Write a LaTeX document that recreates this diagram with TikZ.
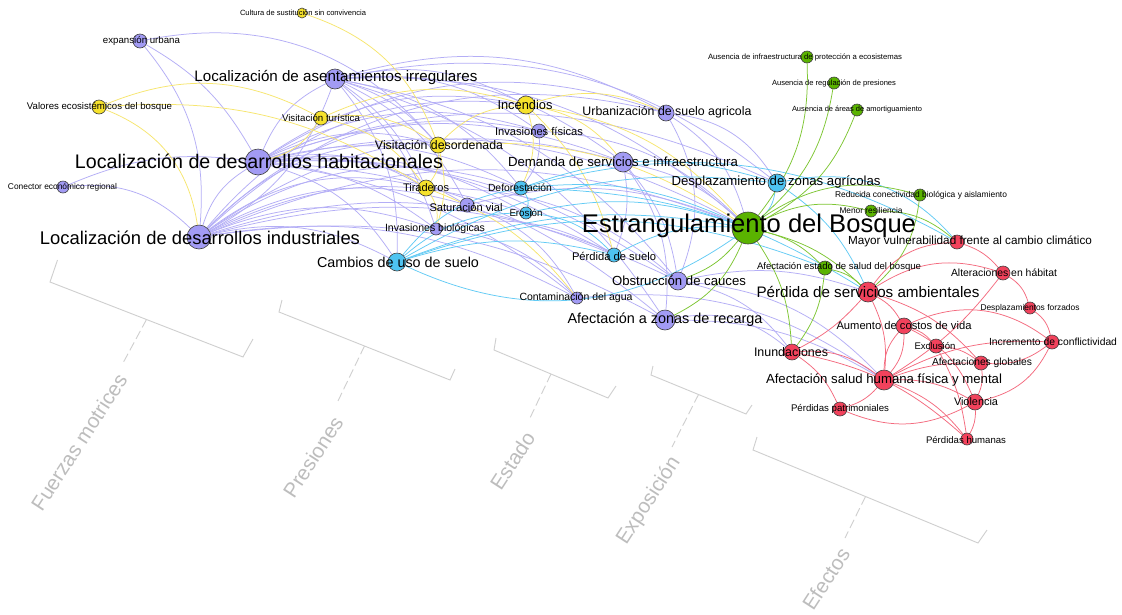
\documentclass[tikz,border=0pt]{standalone}
\usepackage{fontspec}
\setmainfont{Liberation Sans}
\usepackage{graphicx}
\definecolor{cP}{HTML}{A29BF4}
\definecolor{cY}{HTML}{F6E22C}
\definecolor{cC}{HTML}{4EC3F1}
\definecolor{cG}{HTML}{5AB300}
\definecolor{cR}{HTML}{F2425C}
\definecolor{eP}{HTML}{B4AEF6}
\definecolor{eY}{HTML}{F7E66E}
\definecolor{eC}{HTML}{62CBF5}
\definecolor{eG}{HTML}{7DC632}
\definecolor{eR}{HTML}{F46A7E}
\definecolor{brk}{HTML}{CFCFCF}
\definecolor{brt}{HTML}{BDBDBD}
\pgfdeclarelayer{bg}
\pgfdeclarelayer{top}
\pgfsetlayers{bg,main,top}
\newcommand\lbl[5]{\node[lab] (#1) at (#2,#3) {\resizebox{#4pt}{!}{#5}};}
\begin{document}
\begin{tikzpicture}[x=1pt,y=-1pt,
  dot/.style={circle,draw=black!75,line width=0.6pt,inner sep=0pt},
  nP/.style={dot,fill=cP},nY/.style={dot,fill=cY},nC/.style={dot,fill=cC},
  nG/.style={dot,fill=cG},nR/.style={dot,fill=cR},
  lab/.style={inner sep=0pt,text=black},
  eg/.style={line width=0.75pt},
  pe/.style={eg,draw=eP},ye/.style={eg,draw=eY},ce/.style={eg,draw=eC},
  ge/.style={eg,draw=eG},re/.style={eg,draw=eR},
  brl/.style={draw=brk,line width=0.9pt},
  brd/.style={draw=brk,line width=0.9pt,dash pattern=on 9pt off 4pt},
  cat/.style={text=brt,font=\fontsize{20.6}{21}\selectfont,rotate=57,inner sep=0pt}]
\begin{pgfonlayer}{bg}
\fill[white] (0,0) rectangle (1122,614);
\end{pgfonlayer}
\useasboundingbox (0,0) rectangle (1122,614);

% ---------- brackets ----------
\coordinate (b1a) at (57.5,260); \coordinate (b1b) at (50,282); \coordinate (b1c) at (243,357); \coordinate (b1d) at (253,339);
\coordinate (b1m) at (146.5,319.5); \coordinate (b1e) at (123,363);
\coordinate (b2a) at (282,300); \coordinate (b2b) at (279,312); \coordinate (b2c) at (450,380); \coordinate (b2d) at (455,369);
\coordinate (b2m) at (364.5,346); \coordinate (b2e) at (337,403);
\coordinate (b3a) at (496,338); \coordinate (b3b) at (494,350); \coordinate (b3c) at (608,398); \coordinate (b3d) at (616,386);
\coordinate (b3m) at (551,374); \coordinate (b3e) at (529,420);
\coordinate (b4a) at (653,366); \coordinate (b4b) at (651,375); \coordinate (b4c) at (746,414); \coordinate (b4d) at (752,405);
\coordinate (b4m) at (698.5,394.5); \coordinate (b4e) at (672,447);
\coordinate (b5a) at (757,437); \coordinate (b5b) at (753,450); \coordinate (b5c) at (978,543); \coordinate (b5d) at (987,530);
\coordinate (b5m) at (865.5,496.5); \coordinate (b5e) at (845,538);
\foreach \i in {1,...,5}{
  \draw[brl] (b\i a) -- (b\i b) -- (b\i c) -- (b\i d);
  \draw[brd] (b\i m) -- (b\i e);
}
\node[cat] (k1) at (79,442) {Fuerzas motrices};
\node[cat] (k2) at (313,457) {Presiones};
\node[cat] (k3) at (512.5,461) {Estado};
\node[cat] (k4) at (649,501) {Exposición};
\node[cat] (k5) at (826,579) {Efectos};

% ---------- nodes ----------
\node[nP,minimum size=14pt] (eu) at (140,41) {};
\node[nP,minimum size=20pt] (lai) at (335,79) {};
\node[nP,minimum size=26pt] (ldh) at (258,162) {};
\node[nP,minimum size=12pt] (cer) at (63,187) {};
\node[nP,minimum size=24pt] (ldi) at (199,237) {};
\node[nP,minimum size=16pt] (usa) at (666,113) {};
\node[nP,minimum size=14pt] (ifi) at (539,131) {};
\node[nP,minimum size=20pt] (dsi) at (623,162) {};
\node[nP,minimum size=14pt] (sv) at (467,205) {};
\node[nP,minimum size=12pt] (ib) at (436,229) {};
\node[nP,minimum size=12pt] (ca) at (577,298) {};
\node[nP,minimum size=18pt] (oc) at (678,281) {};
\node[nP,minimum size=20pt] (azr) at (665,320) {};
\node[nY,minimum size=10pt] (cul) at (302,13) {};
\node[nY,minimum size=14pt] (veb) at (99,107) {};
\node[nY,minimum size=14pt] (vt) at (321,118) {};
\node[nY,minimum size=18pt] (inc) at (526,105) {};
\node[nY,minimum size=16pt] (vd) at (438,145) {};
\node[nY,minimum size=16pt] (tir) at (426,188) {};
\node[nC,minimum size=14pt] (def) at (521,188) {};
\node[nC,minimum size=12pt] (ero) at (526,213) {};
\node[nC,minimum size=18pt] (cus) at (397,262) {};
\node[nC,minimum size=14pt] (ps) at (614,255) {};
\node[nC,minimum size=18pt] (dza) at (777,183) {};
\node[nG,minimum size=32pt] (eb) at (748,228) {};
\node[nG,minimum size=12pt] (a1) at (807,57) {};
\node[nG,minimum size=12pt] (a2) at (834,83) {};
\node[nG,minimum size=12pt] (a3) at (857,110) {};
\node[nG,minimum size=12pt] (rc) at (920,195) {};
\node[nG,minimum size=12pt] (mr) at (871,211) {};
\node[nG,minimum size=14pt] (aesb) at (825,268) {};
\node[nR,minimum size=14pt] (mv) at (957,242) {};
\node[nR,minimum size=20pt] (psa) at (868,292) {};
\node[nR,minimum size=14pt] (ah) at (1003,273) {};
\node[nR,minimum size=12pt] (df) at (1030,308) {};
\node[nR,minimum size=16pt] (acv) at (904,326) {};
\node[nR,minimum size=14pt] (ic) at (1052,342) {};
\node[nR,minimum size=14pt] (exc) at (936,346) {};
\node[nR,minimum size=16pt] (inu) at (792,352) {};
\node[nR,minimum size=14pt] (ag) at (981,363) {};
\node[nR,minimum size=20pt] (ash) at (884,380) {};
\node[nR,minimum size=16pt] (vio) at (975,402) {};
\node[nR,minimum size=14pt] (pp) at (840,409) {};
\node[nR,minimum size=12pt] (ph) at (967,439) {};

% ---------- edges (on background layer) ----------
\begin{pgfonlayer}{bg}
\foreach \a/\b/\c in {eu/ldh/15,eu/ldi/22,eu/vd/30,cer/ldh/15,cer/ldi/25,
  ldh/lai/20,ldh/inc/22,ldh/ifi/22,ldh/usa/25,ldh/dsi/20,ldh/vd/20,ldh/tir/20,ldh/def/20,ldh/sv/18,ldh/ib/15,
  ldh/ero/18,ldh/ps/18,ldh/eb/20,ldh/dza/22,ldh/oc/18,ldh/azr/18,ldh/ca/15,ldh/cus/20,
  ldi/vd/25,ldi/tir/25,ldi/sv/22,ldi/ib/20,ldi/def/25,ldi/ero/22,ldi/dsi/25,ldi/ps/20,ldi/eb/22,ldi/inc/28,
  ldi/ifi/28,ldi/ca/18,ldi/oc/20,ldi/azr/18,ldi/cus/20,ldi/usa/28,ldi/ldh/20,
  lai/inc/20,lai/ifi/20,lai/usa/22,lai/dsi/20,lai/vd/15,lai/tir/15,lai/def/20,lai/sv/18,lai/ib/15,lai/cus/20,
  lai/eb/22,lai/dza/25,lai/oc/20,lai/azr/20,lai/ldi/20,
  usa/eb/20,usa/dza/25,usa/oc/25,dsi/eb/15,dsi/ps/15,dsi/oc/15,dsi/azr/20,ifi/def/20,ifi/eb/20,
  sv/eb/18,sv/ca/20,ib/ps/20,ib/ca/20,ca/ash/20,oc/inu/20,oc/ash/20,oc/psa/15,azr/inu/25,azr/ash/15,tir/oc/20}
  \draw[pe] (\a) to[bend left=\c] (\b);

\foreach \a/\b/\c in {cul/vd/25,veb/vt/25,veb/ldi/30,veb/tir/18,vt/inc/20,vt/vd/20,vt/tir/20,
  inc/eb/20,inc/def/20,inc/ps/15,inc/dsi/20,vd/tir/20,vd/ib/15,vd/inc/20,vd/eb/18,tir/ib/20,tir/ca/15,vt/ldh/20,inc/usa/20}
  \draw[ye] (\a) to[bend left=\c] (\b);

\foreach \a/\b/\c in {cus/def/20,cus/ero/20,cus/ps/15,eb/cus/30,cus/dza/18,cus/eb/15,def/ero/25,def/eb/15,def/dza/18,
  def/mv/22,def/psa/15,ero/eb/15,ero/ps/20,ps/eb/15,dza/mv/30,dza/psa/15,dza/eb/20,cus/aesb/20}
  \draw[ce] (\a) to[bend left=\c] (\b);

\foreach \a/\b/\c in {a1/eb/20,a2/eb/20,a3/eb/20,eb/rc/25,eb/mr/20,eb/aesb/15,eb/oc/15,eb/azr/20,eb/inu/15,
  eb/psa/15,rc/psa/20,mr/mv/20,aesb/inu/15,aesb/psa/15}
  \draw[ge] (\a) to[bend left=\c] (\b);

\foreach \a/\b/\c in {mv/ah/15,psa/ah/25,psa/acv/15,psa/inu/10,psa/ash/15,psa/ag/15,ah/df/20,ah/ash/10,
  df/ic/20,acv/ic/30,acv/ash/20,ash/acv/20,acv/exc/15,acv/vio/20,ic/ag/20,ic/vio/25,exc/ag/15,exc/ph/10,
  inu/ash/20,inu/pp/15,inu/ph/15,ash/vio/15,ash/pp/15,ash/ph/15,ash/ag/10,vio/pp/25,vio/ph/15,ag/vio/15,ash/ic/15,psa/mv/25}
  \draw[re] (\a) to[bend left=\c] (\b);
\end{pgfonlayer}

% ---------- labels ----------
\begin{pgfonlayer}{top}
\lbl{t1}{141.5}{41}{77}{expansión urbana}
\lbl{t2}{336}{77}{283}{Localización de asentamientos irregulares}
\lbl{t3}{259}{161}{368}{Localización de desarrollos habitacionales}
\lbl{t4}{62.5}{187}{109}{Conector económico regional}
\lbl{t5}{200}{238}{320}{Localización de desarrollos industriales}
\lbl{t6}{667}{112}{169}{Urbanización de suelo agricola}
\lbl{t7}{539}{131}{88}{Invasiones físicas}
\lbl{t8}{623}{162}{230}{Demanda de servicios e infraestructura}
\lbl{t9}{466}{207}{73}{Saturación vial}
\lbl{t10}{435}{229}{100}{Invasiones biológicas}
\lbl{t11}{576}{298}{113}{Contaminación del agua}
\lbl{t12}{679}{281}{134}{Obstrucción de cauces}
\lbl{t13}{665}{320}{195}{Afectación a zonas de recarga}
\lbl{t14}{303}{13}{126}{Cultura de sustitución sin convivencia}
\lbl{t15}{99.5}{107}{145}{Valores ecosistémicos del bosque}
\lbl{t16}{321}{118}{78}{Visitación turística}
\lbl{t17}{525}{105}{55}{Incendios}
\lbl{t18}{439}{145}{128}{Visitación desordenada}
\lbl{t19}{426}{188}{46}{Tiraderos}
\lbl{t20}{520}{188}{64}{Deforestación}
\lbl{t21}{526}{213}{33}{Erosión}
\lbl{t22}{398}{262}{162}{Cambios de uso de suelo}
\lbl{t23}{614}{256}{84}{Pérdida de suelo}
\lbl{t24}{776}{182}{209}{Desplazamiento de zonas agrícolas}
\lbl{t25}{749}{226}{334}{Estrangulamiento del Bosque}
\lbl{t26}{805}{57}{194}{Ausencia de infraestructura de protección a ecosistemas}
\lbl{t27}{834}{83}{124}{Ausencia de regulación de presiones}
\lbl{t28}{857}{110}{130}{Ausencia de áreas de amortiguamiento}
\lbl{t29}{921}{195}{172}{Reducida conectividad biológica y aislamiento}
\lbl{t30}{871}{211}{63}{Menor resiliencia}
\lbl{t31}{839}{267}{164}{Afectación estado de salud del bosque}
\lbl{t32}{970}{241}{244}{Mayor vulnerabilidad frente al cambio climático}
\lbl{t33}{868}{292}{223}{Pérdida de servicios ambientales}
\lbl{t34}{1004}{273}{106}{Alteraciones en hábitat}
\lbl{t35}{1030}{308}{99}{Desplazamientos forzados}
\lbl{t36}{904}{325}{135}{Aumento de costos de vida}
\lbl{t37}{1053}{342}{128}{Incremento de conflictividad}
\lbl{t38}{935}{346}{41}{Exclusión}
\lbl{t39}{791}{352}{74}{Inundaciones}
\lbl{t40}{982}{363}{100}{Afectaciones globales}
\lbl{t41}{884}{380}{236}{Afectación salud humana física y mental}
\lbl{t42}{976}{402}{44}{Violencia}
\lbl{t43}{840}{409}{98}{Pérdidas patrimoniales}
\lbl{t44}{966}{440}{80}{Pérdidas humanas}
\end{pgfonlayer}
\end{tikzpicture}
\end{document}
